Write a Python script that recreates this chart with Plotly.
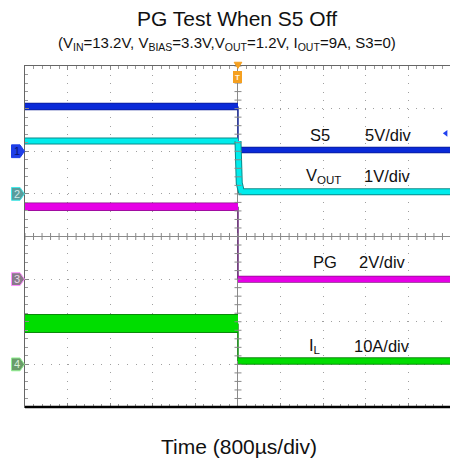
import numpy as np
import plotly.graph_objects as go

# ---------------- data (time in divisions relative to trigger) ----------------
t_before = [-5.0, 0.0]
t_after = [0.0, 5.0]

s5_before = [5.25, 5.25]      # V
s5_after = [0.15, 0.15]
vout_before = [1.24, 1.24]    # V
vout_after_t = [0.0, 0.03, 0.08, 5.0]
vout_after = [1.24, 0.25, 0.05, 0.05]
pg_before = [3.4, 3.4]        # V
pg_after = [0.0, 0.0]
il_before = [9.6, 9.6]        # A
il_after = [0.8, 0.8]

# channel scale (unit/div) and ground offset (div)
channels = ["S5", "VOUT", "PG", "IL"]
scale = {"S5": 5.0, "VOUT": 1.0, "PG": 2.0, "IL": 10.0}
offset = {"S5": 2.0, "VOUT": 1.0, "PG": -1.0, "IL": -3.0}
scale_text = {"S5": "5V/div", "VOUT": "1V/div", "PG": "2V/div", "IL": "10A/div"}
name_text = {"S5": "S5", "VOUT": "V<sub>OUT</sub>", "PG": "PG", "IL": "I<sub>L</sub>"}

FONT = "Liberation Sans, Arial, sans-serif"
PLOT_L, PLOT_W = 25, 425   # plot area left / width in px
PLOT_B, PLOT_H = 407, 341  # plot area bottom / height in px


def dv(ch, vals):
    return [offset[ch] + v / scale[ch] for v in vals]


def px2paper(px):
    return (px - PLOT_L) / PLOT_W


def py2paper(py):
    return (PLOT_B - py) / PLOT_H


fig = go.Figure()


def band(x, y, width, color, edge=None, edge_extra=2):
    if edge:
        fig.add_trace(go.Scatter(x=x, y=y, mode="lines",
                                 line=dict(color=edge, width=width + edge_extra),
                                 hoverinfo="skip", showlegend=False))
    fig.add_trace(go.Scatter(x=x, y=y, mode="lines",
                             line=dict(color=color, width=width),
                             hoverinfo="skip", showlegend=False))


def step(ch, y0, y1, color):
    fig.add_trace(go.Scatter(x=[0, 0], y=[dv(ch, [y0])[0], dv(ch, [y1])[0]], mode="lines",
                             line=dict(color=color, width=1.5),
                             hoverinfo="skip", showlegend=False))


# transitions
step("S5", s5_before[1], s5_after[0], "#1a2a9a")
step("PG", pg_before[1], pg_after[0], "#6a2a7a")
step("IL", il_before[1], il_after[0], "#109010")

# S5
band(t_before, dv("S5", s5_before), 6, "#0a2ad8", "#0a1a90", 1.5)
band(t_after, dv("S5", s5_after), 5, "#0a2ad8", "#0a1a90", 1.5)
# VOUT
band(t_before, dv("VOUT", vout_before), 5, "#00ecec", "#0a8a8a", 2)
band(vout_after_t, dv("VOUT", vout_after), 5, "#00ecec", "#0a8a8a", 2)
# PG
band(t_before, dv("PG", pg_before), 7, "#e600e6", "#8a108a", 1.5)
band(t_after, dv("PG", pg_after), 5.5, "#e600e6", "#8a108a", 1.5)
# IL
band(t_before, dv("IL", il_before), 17, "#00dd00", "#0a8a0a", 2)
band(t_after, dv("IL", il_after), 5.5, "#00dd00", "#0a8a0a", 2)

# center-line minor ticks
mt_x = np.round(np.arange(-5, 5.01, 0.2), 3)
mt_y = np.round(np.arange(-4, 4.01, 0.2), 3)
fig.add_trace(go.Scatter(x=mt_x, y=[0] * len(mt_x), mode="markers",
                         marker=dict(symbol="line-ns", size=5, line=dict(color="#888", width=1)),
                         hoverinfo="skip", showlegend=False))
fig.add_trace(go.Scatter(x=[0] * len(mt_y), y=mt_y, mode="markers",
                         marker=dict(symbol="line-ew", size=5, line=dict(color="#888", width=1)),
                         hoverinfo="skip", showlegend=False))

# trigger marker
fig.add_shape(type="path", xref="x", yref="paper",
              path="M -0.09,1.011 L 0.09,1.011 L 0,0.993 Z",
              fillcolor="#f5a020", line=dict(color="#f5a020", width=1))
fig.add_annotation(x=0, y=3.74, xref="x", yref="y", text="<b>T</b>", showarrow=False,
                   bgcolor="#f5a020", bordercolor="#f5a020", borderpad=0,
                   width=7, height=10, font=dict(family=FONT, size=8, color="#fff6e0"))

# right side offset arrow (S5)
fig.add_trace(go.Scatter(x=[4.88], y=[2.42], mode="markers", cliponaxis=False,
                         marker=dict(symbol="triangle-left", size=6, color="#2040f0"),
                         hoverinfo="skip", showlegend=False))

# channel ground markers
marker_style = {
    "S5": ("1", "#1f3fe8", "#1f3fe8", "#0a1470"),
    "VOUT": ("2", "#5a9c9c", "#40e8e8", "#d0e8e8"),
    "PG": ("3", "#8a7a8a", "#ff90ff", "#e8d8e8"),
    "IL": ("4", "#6a9c6a", "#90f090", "#d8f0d8"),
}
xa, xb, xc = px2paper(11.5), px2paper(20), px2paper(24.5)
for ch in channels:
    num, bg, bd, fc = marker_style[ch]
    y0 = offset[ch]
    h = 0.15
    fig.add_shape(type="path", xref="paper", yref="y",
                  path=f"M {xa},{y0 - h} L {xb},{y0 - h} L {xc},{y0} L {xb},{y0 + h} "
                       f"L {xa},{y0 + h} Z",
                  fillcolor=bg, line=dict(color=bd, width=1))
    fig.add_annotation(x=px2paper(16.5), y=y0, xref="paper", yref="y", text=num,
                       xanchor="center", yanchor="middle",
                       showarrow=False, font=dict(family=FONT, size=11, color=fc))

# channel labels
label_pos = {"S5": (1.92, 3.54, 2.39), "VOUT": (2.0, 3.52, 1.43),
             "PG": (2.04, 3.40, -0.59), "IL": (1.81, 3.39, -2.56)}
for ch in channels:
    xn, xs, yy = label_pos[ch]
    fig.add_annotation(x=xn, y=yy, xref="x", yref="y", text=name_text[ch], showarrow=False,
                       font=dict(family=FONT, size=16.5, color="#111"))
    fig.add_annotation(x=xs, y=yy, xref="x", yref="y", text=scale_text[ch], showarrow=False,
                       font=dict(family=FONT, size=16.5, color="#111"))

# titles
fig.add_annotation(x=px2paper(236.5), y=py2paper(19), xref="paper", yref="paper",
                   xanchor="center", yanchor="middle",
                   text="PG Test When S5 Off",
                   showarrow=False, font=dict(family=FONT, size=21, color="#111"))
fig.add_annotation(x=px2paper(226.5), y=py2paper(43), xref="paper", yref="paper",
                   xanchor="center", yanchor="middle",
                   text="(V<sub>IN</sub>=13.2V, V<sub>BIAS</sub>=3.3V,V<sub>OUT</sub>=1.2V, "
                        "I<sub>OUT</sub>=9A, S3=0)",
                   showarrow=False, font=dict(family=FONT, size=15, color="#111"))
fig.add_annotation(x=px2paper(239), y=py2paper(447), xref="paper", yref="paper",
                   xanchor="center", yanchor="middle",
                   text="Time (800µs/div)",
                   showarrow=False, font=dict(family=FONT, size=21, color="#111"))

# bottom thick border
fig.add_shape(type="line", xref="paper", yref="paper", x0=0, x1=1, y0=0, y1=0,
              line=dict(color="#000", width=2.5))

grid_kw = dict(showgrid=True, gridcolor="#a0a0a0", griddash="1px,7.5px", gridwidth=1,
               zeroline=True, zerolinecolor="#8a8a8a", zerolinewidth=1.2,
               showticklabels=False, ticks="inside", ticklen=4, tickcolor="#888",
               minor=dict(ticks="inside", ticklen=3, dtick=0.2, tickcolor="#999", showgrid=False),
               showline=True, linecolor="#666", linewidth=1, fixedrange=True)

fig.update_xaxes(range=[-5, 4.977], dtick=1, tick0=0, mirror="allticks", **grid_kw)
fig.update_yaxes(range=[-4, 4], dtick=1, tick0=0, **grid_kw)

fig.update_layout(width=450, height=461, margin=dict(l=25, r=0, t=66, b=54),
                  paper_bgcolor="white", plot_bgcolor="white", showlegend=False)

fig.write_html("out.html")
